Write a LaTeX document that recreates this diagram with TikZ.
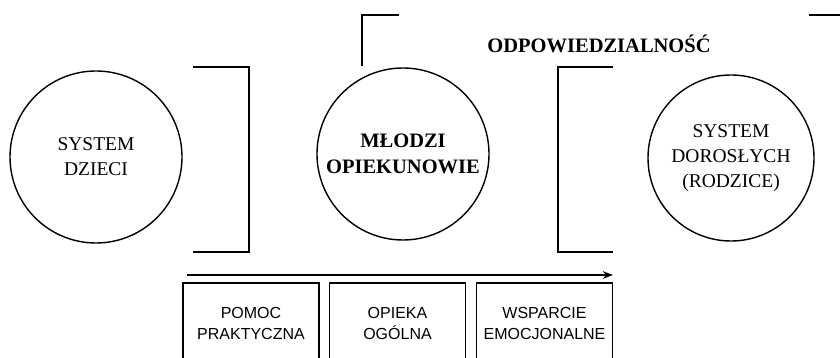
\documentclass[tikz,border=0pt]{standalone}
\usepackage{fontspec}
\setmainfont{Liberation Serif}
\setsansfont{Liberation Sans}
\usetikzlibrary{arrows.meta}
\tikzset{>=Stealth}

\begin{document}
\begin{tikzpicture}[x=1pt,y=-1pt,
    krag/.style={draw,circle,line width=1.4pt,minimum size=172pt,inner sep=0pt,align=center,
      font=\fontsize{19.5}{25}\selectfont},
    ramka/.style={draw,line width=1.7pt,minimum width=136pt,minimum height=80pt,inner sep=0pt,
      align=center,font=\sffamily\fontsize{16}{21}\selectfont},
    klamra/.style={line width=1.7pt}]
    \path[use as bounding box,clip] (0,0) rectangle (840,358);
    % trzy systemy
    \node[krag] (dzieci) at (96,157) {SYSTEM\\DZIECI};
    \node[krag,font=\bfseries\fontsize{20.5}{26}\selectfont] (mlodzi) at (403,154) {MŁODZI\\OPIEKUNOWIE};
    \node[krag,minimum size=166pt] (dorosli) at (731,158) {SYSTEM\\DOROSŁYCH\\(RODZICE)};
    % klamry
    \draw[klamra] (193,67) -- (249,67) -- (249,252) -- (193,252);
    \draw[klamra] (613,67) -- (558,67) -- (558,252) -- (613,252);
    \draw[klamra] (399,15) -- (362,15) -- (362,66);
    \draw[klamra] (809,15) -- (842,15);
    \node[font=\bfseries\fontsize{20.5}{26}\selectfont] (odp) at (599,44) {ODPOWIEDZIALNOŚĆ};
    % strzalka i pola
    \coordinate (poczatek) at (187,275);
    \coordinate (koniec) at (613,275);
    \draw[->,line width=1.6pt] (poczatek) -- (koniec);
    \node[ramka] (pomoc) at (251,323) {POMOC\\PRAKTYCZNA};
    \node[ramka] (opieka) at (397.5,323) {OPIEKA\\OGÓLNA};
    \node[ramka] (wsparcie) at (544.5,323) {WSPARCIE\\EMOCJONALNE};
\end{tikzpicture}
\end{document}
